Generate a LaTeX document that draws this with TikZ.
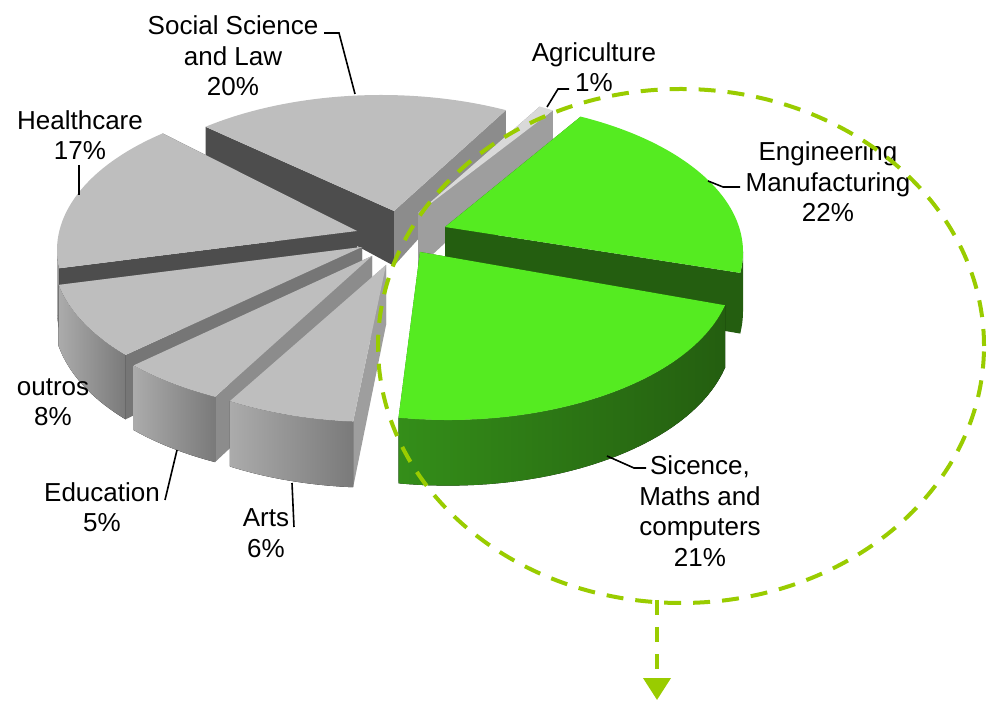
\documentclass[tikz,border=0pt]{standalone}
\usepackage{fontspec}
\setmainfont{Liberation Sans}
\usetikzlibrary{arrows.meta}
\definecolor{pietop}{HTML}{BEBEBE}
\definecolor{agritop}{HTML}{D9D9D9}
\definecolor{greentop}{HTML}{55EB21}
\definecolor{facedark}{HTML}{4D4D4D}
\definecolor{facemid}{HTML}{8C8C8C}
\definecolor{faceout}{HTML}{767676}
\definecolor{facelight}{HTML}{9E9E9E}
\definecolor{engface}{HTML}{245E10}
\definecolor{sciface}{HTML}{2B7312}
\definecolor{rimlight}{HTML}{ABABAB}
\definecolor{rimdark}{HTML}{7A7A7A}
\definecolor{scilight}{HTML}{348E19}
\definecolor{hilite}{HTML}{99CC00}
\tikzset{
  declare function={thk(\y)=67-37*exp(-(596-\y)/95);},
  grey top/.style={fill=pietop},
  grey rim/.style={left color=rimlight,right color=rimdark},
  agri top/.style={fill=agritop},
  agri rim/.style={fill=facelight},
  eng top/.style={fill=greentop},
  eng rim/.style={fill=engface},
  sci top/.style={fill=greentop},
  sci rim/.style={left color=scilight,right color=engface},
  tag/.style={align=center,inner sep=0pt,font=\fontsize{26}{30.5}\selectfont},
  leader/.style={draw=black,line width=1.6pt},
  focus/.style={draw=hilite,line width=4pt,dash pattern=on 17pt off 12pt}
}
% #1,#2 rim centre, #3,#4 rim angles, #5,#6 tip, #7 kind, #8,#9 side faces
\newcommand{\pieslice}[9]{%
  \pgfmathsetmacro\rimlo{#3>180 ? max(#4,180) : max(#4,-180)}%
  \pgfmathsetmacro\rimhi{#3>180 ? #3 : min(#3,0)}%
  \pgfmathtruncatemacro\hasrim{\rimhi>\rimlo ? 1 : 0}%
  \fill[#8] (#5,#6) -- ({#1+285*cos(#3)},{#2+150*sin(#3)})
    -- ({#1+285*cos(#3)},{#2+150*sin(#3)-thk(#2+150*sin(#3))})
    -- (#5,{#6-thk(#6)}) -- cycle;
  \fill[#9] (#5,#6) -- ({#1+285*cos(#4)},{#2+150*sin(#4)})
    -- ({#1+285*cos(#4)},{#2+150*sin(#4)-thk(#2+150*sin(#4))})
    -- (#5,{#6-thk(#6)}) -- cycle;
  \ifnum\hasrim=1
    \fill[#7 rim] plot[domain=\rimlo:\rimhi,samples=40]
      ({#1+285*cos(\x)},{#2+150*sin(\x)})
      -- plot[domain=\rimhi:\rimlo,samples=40]
      ({#1+285*cos(\x)},{#2+150*sin(\x)-thk(#2+150*sin(\x))}) -- cycle;
  \fi
  \fill[#7 top] (#5,#6) -- ({#1+285*cos(#3)},{#2+150*sin(#3)})
    arc[start angle=#3,end angle=#4,x radius=285pt,y radius=150pt] -- cycle;
}

\begin{document}
\begin{tikzpicture}[x=1pt,y=1pt]
  \useasboundingbox (0,0) rectangle (987,701);

  % slices, back to front
  \pieslice{381}{456}{128}{64}{394}{490}{grey}{facedark}{facemid}
  \pieslice{406}{462}{62}{59}{418}{488}{agri}{facemid}{facelight}
  \pieslice{342}{451}{187}{129}{357}{470}{grey}{facedark}{facedark}
  \pieslice{458}{449}{64.5}{-8}{445}{474}{eng}{engface}{engface}
  \pieslice{338}{446}{-138.2}{-168.5}{362}{454}{grey}{faceout}{faceout}
  \pieslice{340}{439}{-116}{-136.4}{372}{445}{grey}{facemid}{facemid}
  \pieslice{375}{429}{-94.4}{-120.6}{386}{436}{grey}{facelight}{facelight}
  \pieslice{448}{431}{-13.6}{-100}{420}{449}{sci}{engface}{sciface}

  % labels
  \node[tag] (ssl) at (233,645) {Social Science\\and Law\\20\%};
  \node[tag] (hcl) at (80,566) {Healthcare\\17\%};
  \node[tag] (agl) at (594,634) {Agriculture\\1\%};
  \node[tag] (engl) at (828,519) {Engineering\\Manufacturing\\22\%};
  \node[tag] (scil) at (700,190) {Sicence,\\Maths and\\computers\\21\%};
  \node[tag] (outl) at (53,299) {outros\\8\%};
  \node[tag] (edul) at (102,194) {Education\\5\%};
  \node[tag] (artl) at (266,168) {Arts\\6\%};

  % leader lines
  \coordinate (ss-tag) at (324,668);   \coordinate (ss-pin) at (355,607);
  \coordinate (hc-tag) at (79,536);    \coordinate (hc-pin) at (79,506);
  \coordinate (ag-tag) at (569,612);   \coordinate (ag-pin) at (547,594);
  \coordinate (eng-tag) at (740,514);  \coordinate (eng-pin) at (708,520);
  \coordinate (sci-tag) at (646,233);  \coordinate (sci-pin) at (607,245);
  \coordinate (edu-tag) at (165,201);  \coordinate (edu-pin) at (177,251);
  \coordinate (art-tag) at (294,174);  \coordinate (art-pin) at (292,218);
  \draw[leader] (ss-tag) -- ++(15,0) -- (ss-pin);
  \draw[leader] (hc-tag) -- (hc-pin);
  \draw[leader] (ag-tag) -- ++(-11,0) -- (ag-pin);
  \draw[leader] (eng-tag) -- ++(-17,0) -- (eng-pin);
  \draw[leader] (sci-tag) -- ++(-12,0) -- (sci-pin);
  \draw[leader] (edu-tag) -- (edu-pin);
  \draw[leader] (art-tag) -- (art-pin);

  % highlight of the green slices
  \coordinate (ring) at (681,355);
  \coordinate (ring-low) at (657,101);
  \coordinate (drop) at (657,1);
  \draw[focus] (ring) ellipse [x radius=303pt,y radius=257pt];
  \draw[focus,dash pattern=on 15pt off 12pt,-{Triangle[width=27pt,length=22pt]}]
    (ring-low) -- (drop);
\end{tikzpicture}
\end{document}
